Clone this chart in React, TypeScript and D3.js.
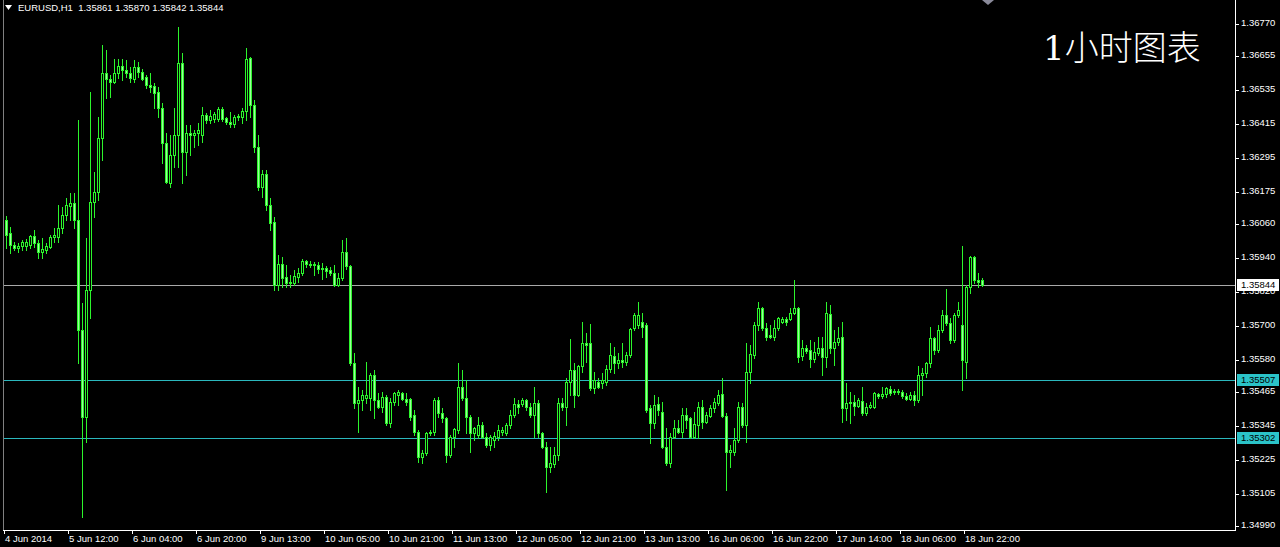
import React, { useEffect, useRef } from 'react';
import * as d3 from 'd3';

// EURUSD H1, one value per bar
const openP = [
  1.36074, 1.36028, 1.35986, 1.35975, 1.35982, 1.35982, 1.35986, 1.36018, 1.35993, 1.35961,
  1.35968, 1.35979, 1.36014, 1.36014, 1.36046, 1.36092, 1.36124, 1.36134, 1.36074, 1.35685,
  1.35377, 1.35826, 1.36138, 1.36173, 1.36364, 1.36595, 1.36573, 1.36563, 1.36595, 1.36619,
  1.36605, 1.36595, 1.36573, 1.36616, 1.36598, 1.36580, 1.36552, 1.36549, 1.36527, 1.36471,
  1.36347, 1.36205, 1.36304, 1.36375, 1.36630, 1.36315, 1.36382, 1.36375, 1.36382, 1.36375,
  1.36446, 1.36428, 1.36432, 1.36432, 1.36467, 1.36435, 1.36421, 1.36414, 1.36439, 1.36439,
  1.36460, 1.36648, 1.36481, 1.36333, 1.36191, 1.36237, 1.36127, 1.36067, 1.35844, 1.35918,
  1.35872, 1.35851, 1.35851, 1.35872, 1.35887, 1.35929, 1.35918, 1.35915, 1.35915, 1.35901,
  1.35904, 1.35897, 1.35887, 1.35844, 1.35869, 1.35961, 1.35911, 1.35568, 1.35426, 1.35437,
  1.35444, 1.35444, 1.35526, 1.35437, 1.35412, 1.35448, 1.35356, 1.35430, 1.35455, 1.35462,
  1.35441, 1.35441, 1.35384, 1.35324, 1.35235, 1.35249, 1.35320, 1.35324, 1.35437, 1.35391,
  1.35373, 1.35242, 1.35306, 1.35331, 1.35483, 1.35444, 1.35377, 1.35320, 1.35313, 1.35349,
  1.35306, 1.35278, 1.35295, 1.35306, 1.35324, 1.35320, 1.35349, 1.35384, 1.35423, 1.35423,
  1.35437, 1.35412, 1.35384, 1.35426, 1.35320, 1.35271, 1.35200, 1.35210, 1.35242, 1.35426,
  1.35412, 1.35501, 1.35543, 1.35455, 1.35557, 1.35639, 1.35639, 1.35480, 1.35501, 1.35497,
  1.35501, 1.35547, 1.35593, 1.35568, 1.35579, 1.35572, 1.35596, 1.35692, 1.35702, 1.35713,
  1.35702, 1.35409, 1.35356, 1.35423, 1.35395, 1.35271, 1.35214, 1.35306, 1.35338, 1.35324,
  1.35384, 1.35373, 1.35306, 1.35349, 1.35412, 1.35359, 1.35380, 1.35409, 1.35426, 1.35458,
  1.35380, 1.35253, 1.35253, 1.35295, 1.35412, 1.35349, 1.35536, 1.35596, 1.35702, 1.35763,
  1.35692, 1.35667, 1.35660, 1.35692, 1.35713, 1.35724, 1.35724, 1.35745, 1.35763, 1.35593,
  1.35621, 1.35614, 1.35582, 1.35603, 1.35621, 1.35589, 1.35741, 1.35621, 1.35642, 1.35660,
  1.35409, 1.35426, 1.35430, 1.35416, 1.35433, 1.35391, 1.35412, 1.35412, 1.35458, 1.35451,
  1.35458, 1.35476, 1.35465, 1.35469, 1.35465, 1.35451, 1.35441, 1.35455, 1.35437, 1.35526,
  1.35533, 1.35568, 1.35656, 1.35614, 1.35685, 1.35738, 1.35710, 1.35649, 1.35738, 1.35702,
  1.35572, 1.35837, 1.35943, 1.35862, 1.35861,
];
const highP = [
  1.36088, 1.36049, 1.35996, 1.35993, 1.36003, 1.36007, 1.36021, 1.36039, 1.36003, 1.36011,
  1.35993, 1.36021, 1.36046, 1.36127, 1.36120, 1.36152, 1.36170, 1.36170, 1.36428, 1.35780,
  1.36011, 1.36527, 1.36244, 1.36439, 1.36694, 1.36676, 1.36588, 1.36644, 1.36644, 1.36644,
  1.36641, 1.36616, 1.36641, 1.36634, 1.36609, 1.36588, 1.36595, 1.36559, 1.36545, 1.36488,
  1.36382, 1.36375, 1.36471, 1.36757, 1.36665, 1.36410, 1.36410, 1.36393, 1.36418, 1.36474,
  1.36453, 1.36464, 1.36456, 1.36474, 1.36474, 1.36439, 1.36456, 1.36446, 1.36449, 1.36471,
  1.36683, 1.36651, 1.36499, 1.36375, 1.36251, 1.36251, 1.36152, 1.36085, 1.35950, 1.35943,
  1.35915, 1.35880, 1.35897, 1.35904, 1.35936, 1.35933, 1.35929, 1.35925, 1.35925, 1.35922,
  1.35911, 1.35908, 1.35915, 1.35887, 1.36003, 1.36011, 1.35915, 1.35603, 1.35483, 1.35472,
  1.35572, 1.35533, 1.35543, 1.35462, 1.35465, 1.35455, 1.35444, 1.35465, 1.35472, 1.35465,
  1.35462, 1.35444, 1.35402, 1.35331, 1.35260, 1.35324, 1.35331, 1.35444, 1.35448, 1.35409,
  1.35377, 1.35313, 1.35338, 1.35568, 1.35543, 1.35508, 1.35384, 1.35341, 1.35377, 1.35359,
  1.35320, 1.35313, 1.35324, 1.35349, 1.35341, 1.35356, 1.35402, 1.35444, 1.35437, 1.35444,
  1.35441, 1.35426, 1.35483, 1.35437, 1.35324, 1.35288, 1.35271, 1.35271, 1.35444, 1.35444,
  1.35515, 1.35653, 1.35568, 1.35561, 1.35713, 1.35674, 1.35706, 1.35536, 1.35515, 1.35533,
  1.35561, 1.35639, 1.35625, 1.35603, 1.35639, 1.35607, 1.35692, 1.35745, 1.35784, 1.35745,
  1.35710, 1.35419, 1.35455, 1.35448, 1.35430, 1.35338, 1.35320, 1.35366, 1.35366, 1.35409,
  1.35409, 1.35377, 1.35395, 1.35430, 1.35437, 1.35395, 1.35419, 1.35444, 1.35472, 1.35515,
  1.35391, 1.35278, 1.35338, 1.35430, 1.35426, 1.35639, 1.35632, 1.35713, 1.35784, 1.35766,
  1.35710, 1.35702, 1.35720, 1.35731, 1.35731, 1.35731, 1.35763, 1.35862, 1.35766, 1.35649,
  1.35632, 1.35649, 1.35642, 1.35660, 1.35660, 1.35784, 1.35773, 1.35685, 1.35695, 1.35713,
  1.35497, 1.35465, 1.35455, 1.35444, 1.35483, 1.35426, 1.35430, 1.35465, 1.35462, 1.35483,
  1.35483, 1.35487, 1.35476, 1.35476, 1.35472, 1.35462, 1.35465, 1.35469, 1.35557, 1.35550,
  1.35572, 1.35695, 1.35660, 1.35702, 1.35756, 1.35830, 1.35727, 1.35745, 1.35784, 1.35982,
  1.35844, 1.35947, 1.35947, 1.35887, 1.35870,
];
const lowP = [
  1.35975, 1.35957, 1.35968, 1.35961, 1.35968, 1.35968, 1.35975, 1.35979, 1.35940, 1.35940,
  1.35957, 1.35975, 1.35996, 1.35996, 1.36028, 1.36074, 1.36074, 1.36046, 1.35568, 1.35023,
  1.35288, 1.35727, 1.36085, 1.36145, 1.36287, 1.36506, 1.36510, 1.36559, 1.36577, 1.36570,
  1.36580, 1.36563, 1.36563, 1.36580, 1.36570, 1.36541, 1.36527, 1.36471, 1.36439, 1.36276,
  1.36205, 1.36191, 1.36262, 1.36262, 1.36205, 1.36233, 1.36304, 1.36333, 1.36340, 1.36350,
  1.36418, 1.36418, 1.36421, 1.36425, 1.36425, 1.36414, 1.36403, 1.36403, 1.36428, 1.36418,
  1.36428, 1.36439, 1.36315, 1.36180, 1.36156, 1.36110, 1.36039, 1.35826, 1.35826, 1.35837,
  1.35837, 1.35837, 1.35844, 1.35855, 1.35880, 1.35908, 1.35908, 1.35880, 1.35887, 1.35865,
  1.35872, 1.35880, 1.35841, 1.35841, 1.35862, 1.35901, 1.35561, 1.35409, 1.35324, 1.35402,
  1.35426, 1.35402, 1.35373, 1.35409, 1.35395, 1.35349, 1.35341, 1.35419, 1.35419, 1.35437,
  1.35419, 1.35366, 1.35313, 1.35218, 1.35214, 1.35242, 1.35313, 1.35313, 1.35377, 1.35359,
  1.35218, 1.35235, 1.35271, 1.35320, 1.35437, 1.35320, 1.35253, 1.35295, 1.35303, 1.35303,
  1.35271, 1.35260, 1.35271, 1.35295, 1.35313, 1.35313, 1.35338, 1.35377, 1.35391, 1.35416,
  1.35402, 1.35377, 1.35306, 1.35306, 1.35267, 1.35111, 1.35182, 1.35200, 1.35225, 1.35402,
  1.35349, 1.35455, 1.35412, 1.35451, 1.35536, 1.35572, 1.35472, 1.35462, 1.35480, 1.35480,
  1.35490, 1.35536, 1.35533, 1.35550, 1.35554, 1.35561, 1.35589, 1.35685, 1.35692, 1.35660,
  1.35395, 1.35285, 1.35338, 1.35384, 1.35267, 1.35207, 1.35200, 1.35303, 1.35320, 1.35306,
  1.35338, 1.35303, 1.35303, 1.35303, 1.35338, 1.35356, 1.35377, 1.35395, 1.35419, 1.35377,
  1.35118, 1.35200, 1.35242, 1.35288, 1.35341, 1.35288, 1.35497, 1.35586, 1.35685, 1.35685,
  1.35649, 1.35656, 1.35649, 1.35685, 1.35710, 1.35702, 1.35720, 1.35741, 1.35572, 1.35579,
  1.35603, 1.35554, 1.35572, 1.35596, 1.35526, 1.35554, 1.35603, 1.35561, 1.35632, 1.35359,
  1.35366, 1.35356, 1.35384, 1.35412, 1.35384, 1.35384, 1.35409, 1.35409, 1.35444, 1.35444,
  1.35448, 1.35455, 1.35458, 1.35458, 1.35444, 1.35437, 1.35437, 1.35419, 1.35430, 1.35455,
  1.35518, 1.35554, 1.35600, 1.35607, 1.35678, 1.35702, 1.35639, 1.35642, 1.35731, 1.35472,
  1.35515, 1.35816, 1.35851, 1.35837, 1.35842,
];
const closeP = [
  1.36021, 1.35986, 1.35975, 1.35982, 1.35996, 1.35996, 1.36018, 1.35993, 1.35961, 1.35971,
  1.35982, 1.36014, 1.36021, 1.36046, 1.36092, 1.36127, 1.36134, 1.36074, 1.35685, 1.35377,
  1.35826, 1.36138, 1.36173, 1.36364, 1.36595, 1.36573, 1.36563, 1.36595, 1.36619, 1.36605,
  1.36595, 1.36577, 1.36616, 1.36598, 1.36573, 1.36552, 1.36545, 1.36524, 1.36471, 1.36347,
  1.36209, 1.36304, 1.36375, 1.36630, 1.36315, 1.36382, 1.36375, 1.36382, 1.36393, 1.36446,
  1.36428, 1.36442, 1.36449, 1.36467, 1.36432, 1.36421, 1.36414, 1.36439, 1.36442, 1.36460,
  1.36644, 1.36481, 1.36333, 1.36191, 1.36237, 1.36127, 1.36064, 1.35844, 1.35918, 1.35869,
  1.35851, 1.35855, 1.35876, 1.35887, 1.35929, 1.35918, 1.35915, 1.35918, 1.35901, 1.35904,
  1.35894, 1.35887, 1.35844, 1.35869, 1.35961, 1.35911, 1.35568, 1.35426, 1.35437, 1.35455,
  1.35455, 1.35526, 1.35437, 1.35412, 1.35448, 1.35356, 1.35430, 1.35462, 1.35465, 1.35441,
  1.35430, 1.35377, 1.35324, 1.35235, 1.35249, 1.35320, 1.35324, 1.35437, 1.35391, 1.35373,
  1.35242, 1.35306, 1.35334, 1.35483, 1.35444, 1.35377, 1.35320, 1.35338, 1.35349, 1.35306,
  1.35278, 1.35306, 1.35310, 1.35331, 1.35331, 1.35349, 1.35384, 1.35423, 1.35412, 1.35437,
  1.35412, 1.35384, 1.35426, 1.35320, 1.35271, 1.35200, 1.35214, 1.35242, 1.35426, 1.35412,
  1.35501, 1.35543, 1.35455, 1.35557, 1.35639, 1.35632, 1.35480, 1.35508, 1.35483, 1.35508,
  1.35547, 1.35596, 1.35568, 1.35579, 1.35572, 1.35596, 1.35688, 1.35738, 1.35738, 1.35695,
  1.35402, 1.35356, 1.35419, 1.35402, 1.35271, 1.35214, 1.35306, 1.35338, 1.35324, 1.35384,
  1.35366, 1.35306, 1.35352, 1.35412, 1.35359, 1.35384, 1.35409, 1.35430, 1.35455, 1.35380,
  1.35253, 1.35260, 1.35295, 1.35412, 1.35349, 1.35536, 1.35600, 1.35702, 1.35763, 1.35692,
  1.35660, 1.35660, 1.35692, 1.35727, 1.35724, 1.35713, 1.35745, 1.35763, 1.35589, 1.35621,
  1.35610, 1.35582, 1.35607, 1.35621, 1.35589, 1.35745, 1.35621, 1.35642, 1.35656, 1.35409,
  1.35426, 1.35430, 1.35416, 1.35437, 1.35391, 1.35412, 1.35419, 1.35462, 1.35451, 1.35458,
  1.35480, 1.35462, 1.35469, 1.35465, 1.35451, 1.35441, 1.35455, 1.35437, 1.35526, 1.35533,
  1.35568, 1.35656, 1.35614, 1.35685, 1.35738, 1.35710, 1.35649, 1.35738, 1.35756, 1.35579,
  1.35837, 1.35943, 1.35862, 1.35855, 1.35844,
];

const priceTicks = [
  1.36770, 1.36655, 1.36535, 1.36415, 1.36295, 1.36175, 1.36060, 1.35940,
  1.35820, 1.35700, 1.35580, 1.35465, 1.35345, 1.35225, 1.35105, 1.34990,
];
const timeTickBars = [0, 16, 32, 48, 64, 80, 96, 112, 128, 144, 160, 176, 192, 208, 224, 240];
const timeTickLabels = [
  '4 Jun 2014', '5 Jun 12:00', '6 Jun 04:00', '6 Jun 20:00', '9 Jun 13:00', '10 Jun 05:00',
  '10 Jun 21:00', '11 Jun 13:00', '12 Jun 05:00', '12 Jun 21:00', '13 Jun 13:00',
  '16 Jun 06:00', '16 Jun 22:00', '17 Jun 14:00', '18 Jun 06:00', '18 Jun 22:00',
];
const bidPrice = 1.35844;
const levelPrices = [1.35507, 1.35302];
const symbolInfo = 'EURUSD,H1  1.35861 1.35870 1.35842 1.35844';
const caption = '1小时图表';

const W = 1280;
const H = 547;
const FONT = '"Liberation Sans", Arial, sans-serif';

const App = () => {
  const ref = useRef(null);

  useEffect(() => {
    document.body.style.margin = '0';
    document.body.style.background = '#000';
    if (!ref.current) return;

    const right = 1235;   // price axis line
    const bottom = 530;   // time axis line
    const n = openP.length;

    d3.select(ref.current).selectAll('*').remove();

    const svg = d3.select(ref.current)
      .append('svg')
      .attr('width', W)
      .attr('height', H)
      .style('display', 'block')
      .style('font-family', FONT);

    svg.append('rect').attr('width', W).attr('height', H).attr('fill', '#000');

    const x = d3.scaleBand()
      .domain(d3.range(n).map(String))
      .range([4, 4 + 4 * n])
      .padding(0);

    const y = d3.scaleLinear()
      .domain([1.3499, 1.3677])
      .range([526.1, 23.6]);

    const px = (p) => Math.round(y(p));
    const bx = (i) => Math.round(x(String(i)));

    // left border
    svg.append('line')
      .attr('x1', 3.5).attr('x2', 3.5).attr('y1', 0).attr('y2', bottom)
      .attr('stroke', '#808080');

    // horizontal lines (behind candles)
    svg.append('line')
      .attr('x1', 4).attr('x2', right)
      .attr('y1', px(bidPrice) + 0.5).attr('y2', px(bidPrice) + 0.5)
      .attr('stroke', '#a9a9a9');

    svg.selectAll('line.level')
      .data(levelPrices)
      .enter()
      .append('line')
      .attr('class', 'level')
      .attr('x1', 4).attr('x2', right)
      .attr('y1', d => px(d) + 0.5).attr('y2', d => px(d) + 0.5)
      .attr('stroke', '#2bb7bd');

    // candles
    const bars = d3.range(n);
    const cg = svg.append('g');
    const lime = '#2cf52c';

    cg.selectAll('line.wick')
      .data(bars)
      .enter()
      .append('line')
      .attr('class', 'wick')
      .attr('x1', i => bx(i) + 2.5).attr('x2', i => bx(i) + 2.5)
      .attr('y1', i => px(highP[i]))
      .attr('y2', i => px(lowP[i]) + 1)
      .attr('stroke', lime);

    const top = (i) => px(Math.max(openP[i], closeP[i]));
    const bot = (i) => px(Math.min(openP[i], closeP[i]));

    cg.selectAll('rect.body')
      .data(bars)
      .enter()
      .append('rect')
      .attr('class', 'body')
      .attr('x', i => bx(i) + 1)
      .attr('width', 3)
      .attr('y', top)
      .attr('height', i => bot(i) - top(i) + 1)
      .attr('fill', lime);

    cg.selectAll('rect.inner')
      .data(bars.filter(i => bot(i) - top(i) >= 2))
      .enter()
      .append('rect')
      .attr('class', 'inner')
      .attr('x', i => bx(i) + 2)
      .attr('width', 1)
      .attr('y', i => top(i) + 1)
      .attr('height', i => bot(i) - top(i) - 1)
      .attr('fill', i => (closeP[i] >= openP[i] ? '#000' : '#9cff9c'));

    // axis frame
    svg.append('line')
      .attr('x1', right + 0.5).attr('x2', right + 0.5).attr('y1', 0).attr('y2', bottom + 1)
      .attr('stroke', '#fff');
    svg.append('line')
      .attr('x1', 3).attr('x2', right + 1).attr('y1', bottom + 0.5).attr('y2', bottom + 0.5)
      .attr('stroke', '#fff');

    // price axis
    const yAxis = svg.append('g');
    yAxis.selectAll('line')
      .data(priceTicks)
      .enter()
      .append('line')
      .attr('x1', right).attr('x2', right + 4)
      .attr('y1', d => px(d) + 0.5).attr('y2', d => px(d) + 0.5)
      .attr('stroke', '#fff');
    yAxis.selectAll('text')
      .data(priceTicks)
      .enter()
      .append('text')
      .attr('x', right + 6)
      .attr('y', d => px(d) - 1)
      .attr('dy', '0.35em')
      .attr('fill', '#fff')
      .attr('font-size', 9.5)
      .text(d => d.toFixed(5));

    // price tags (the bid tag covers part of the tick label under it, as in the terminal)
    const tags = [
      { p: bidPrice, bg: '#ffffff' },
      ...levelPrices.map(p => ({ p, bg: '#2bc3c8' })),
    ];
    const tg = svg.selectAll('g.tag')
      .data(tags)
      .enter()
      .append('g')
      .attr('class', 'tag')
      .attr('transform', d => `translate(${right + 2},${px(d.p) - 6})`);
    tg.append('rect')
      .attr('width', 42).attr('height', 12)
      .attr('fill', d => d.bg);
    tg.append('text')
      .attr('x', 4).attr('y', 6).attr('dy', '0.35em')
      .attr('fill', '#000')
      .attr('font-size', 9.5)
      .text(d => d.p.toFixed(5));

    // time axis
    const xAxis = svg.append('g');
    xAxis.selectAll('line')
      .data(timeTickBars)
      .enter()
      .append('line')
      .attr('x1', i => bx(i) + 0.5).attr('x2', i => bx(i) + 0.5)
      .attr('y1', bottom).attr('y2', bottom + 4)
      .attr('stroke', '#fff');
    xAxis.selectAll('text')
      .data(timeTickBars)
      .enter()
      .append('text')
      .attr('x', i => bx(i) + 1)
      .attr('y', 542)
      .attr('fill', '#fff')
      .attr('font-size', 9.5)
      .text((_, k) => timeTickLabels[k]);

    // symbol header
    svg.append('path')
      .attr('d', 'M5,5 L12,5 L8.5,10 Z')
      .attr('fill', '#fff');
    svg.append('text')
      .attr('x', 18).attr('y', 11)
      .attr('fill', '#fff')
      .attr('font-size', 9.5)
      .attr('xml:space', 'preserve')
      .style('white-space', 'pre')
      .text(symbolInfo);

    // chart shift marker
    svg.append('path')
      .attr('d', 'M982,0 L994,0 L988,5 Z')
      .attr('fill', '#8a8a9a');

    svg.append('text')
      .attr('x', 1043).attr('y', 60)
      .attr('fill', '#fff')
      .attr('font-size', 34)
      .attr('font-weight', 300)
      .style('font-family', '"DejaVu Serif", "Noto Sans CJK SC", serif')
      .text(caption);
  }, []);

  return (
    <div style={{ position: 'fixed', left: 0, top: 0, width: W, height: H, background: '#000' }}>
      <div ref={ref} />
    </div>
  );
};

export default App;
